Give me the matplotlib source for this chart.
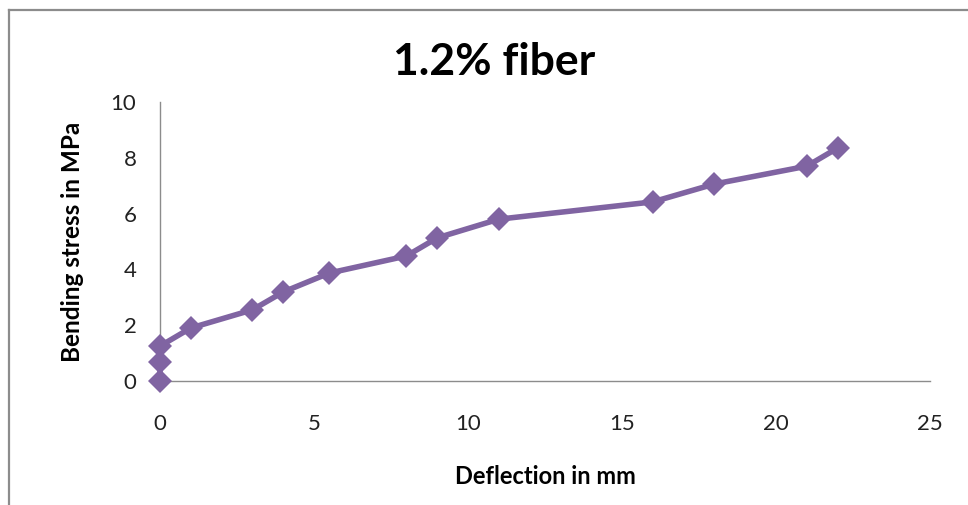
import matplotlib
matplotlib.use("Agg")
import matplotlib.pyplot as plt
from matplotlib.lines import Line2D

# data
deflection = [0, 0, 0, 1, 3, 4, 5.5, 8, 9, 11, 16, 18, 21, 22]
stress = [0, 0.68, 1.25, 1.9, 2.55, 3.19, 3.87, 4.48, 5.13, 5.8, 6.42, 7.06, 7.7, 8.35]
x_ticks = [0, 5, 10, 15, 20, 25]
y_ticks = [0, 2, 4, 6, 8, 10]

plt.rcParams['font.family'] = ['Lato', 'DejaVu Sans']

W, H = 968, 505
fig = plt.figure(figsize=(W / 100, H / 100), dpi=100)
ax = fig.add_axes([160 / W, 1 - 381 / H, 770 / W, 279 / H])

ax.plot(deflection, stress, color='#8064A2', lw=4, marker='D', markersize=12,
        markeredgewidth=0, clip_on=False, zorder=3)

ax.set_xlim(0, 25)
ax.set_ylim(0, 10)
ax.set_xticks(x_ticks)
ax.set_yticks(y_ticks)
ax.tick_params(length=0, labelsize=16, labelcolor='#222222')
ax.tick_params(axis='x', pad=24)
ax.tick_params(axis='y', pad=17)

for side in ['top', 'right']:
    ax.spines[side].set_visible(False)
for side in ['left', 'bottom']:
    ax.spines[side].set_color('#8c8c8c')
    ax.spines[side].set_linewidth(1.0)

ax.set_xlabel('Deflection in mm', fontsize=17, fontweight='bold')
ax.set_ylabel('Bending stress in MPa', fontsize=17.5, fontweight='bold')
ax.xaxis.set_label_coords(0.5, -0.344)
ax.yaxis.set_label_coords(-0.114, 0.5)
ax.xaxis.label.set_va('center')
ax.yaxis.label.set_va('center')

fig.text(494 / W, 1 - 62 / H, '1.2% fiber', fontsize=32, fontweight='bold',
         ha='center', va='center')

# outer chart border (left and top visible in the crop)
fig.add_artist(Line2D([9 / W, 9 / W], [0, 1 - 10 / H], transform=fig.transFigure,
                      color='#8c8c8c', lw=1.6))
fig.add_artist(Line2D([9 / W, 1], [1 - 10 / H, 1 - 10 / H], transform=fig.transFigure,
                      color='#8c8c8c', lw=1.6))

fig.savefig('out.png', dpi=100)
